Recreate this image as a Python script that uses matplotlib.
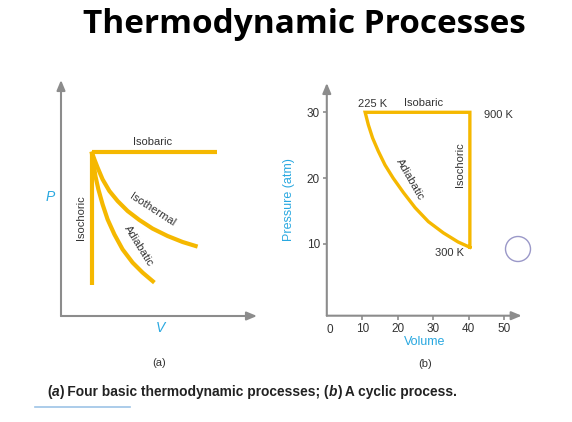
import matplotlib
matplotlib.use("Agg")
import matplotlib.pyplot as plt
from matplotlib.patches import Circle

# ---- data ----
# (a) schematic P-V processes, arbitrary units
iso_bar_v = [1.53, 7.8]
iso_bar_p = [8.22, 8.22]
iso_cho_v = [1.53, 1.53]
iso_cho_p = [8.22, 1.55]
iso_therm_v = [1.53, 1.67, 1.83, 2.08, 2.42, 2.83, 3.33, 3.92, 4.58, 5.33, 6.08, 6.83]
iso_therm_p = [8.22, 7.83, 7.42, 6.83, 6.25, 5.75, 5.25, 4.80, 4.37, 4.00, 3.70, 3.47]
adiab_v = [1.53, 1.62, 1.72, 1.87, 2.08, 2.33, 2.67, 3.08, 3.58, 4.08, 4.67]
adiab_p = [8.22, 7.67, 7.00, 6.33, 5.58, 4.83, 4.08, 3.33, 2.67, 2.17, 1.67]

# (b) cyclic process: isochoric up, isobaric left, adiabatic back down
cyc_v = [40.3, 40.3, 10.8, 11.7, 12.9, 14.5, 16.4, 18.7, 21.6, 24.9, 28.6, 32.8, 37.0, 40.3]
cyc_p = [9.5, 30.0, 30.0, 28.1, 26.1, 24.1, 22.0, 20.0, 17.8, 15.5, 13.4, 11.7, 10.3, 9.5]
b_xticks = [10, 20, 30, 40, 50]
b_yticks = [10, 20, 30]

W, H = 572, 422
GOLD = "#F5B800"
AXC = "#8C8C8C"
BLUE = "#29A8E0"
TXT = "#333333"
FONT = "Liberation Sans"

fig = plt.figure(figsize=(W / 100, H / 100), dpi=100)
fig.patch.set_facecolor("white")


def box(x0, y0, x1, y1):
    # pixel box (top-left origin) -> figure fraction rect
    return [x0 / W, 1 - y1 / H, (x1 - x0) / W, (y1 - y0) / H]


def arrow_axes(ax):
    for s in ax.spines.values():
        s.set_visible(False)
    kw = dict(arrowstyle="-|>,head_length=0.6,head_width=0.25", color=AXC, lw=1.5,
              shrinkA=0, shrinkB=0)
    ax.annotate("", xy=(1, 0), xytext=(0, 0), xycoords="axes fraction",
                textcoords="axes fraction", arrowprops=kw, annotation_clip=False)
    ax.annotate("", xy=(0, 1), xytext=(0, 0), xycoords="axes fraction",
                textcoords="axes fraction", arrowprops=kw, annotation_clip=False)


# ---- panel (a) ----
ax_a = fig.add_axes(box(61, 80, 257, 316))
ax_a.set_xlim(0, 9.8)
ax_a.set_ylim(0, 11.8)
arrow_axes(ax_a)
ax_a.set_xticks([])
ax_a.set_yticks([])
for v, p in [(iso_bar_v, iso_bar_p), (iso_cho_v, iso_cho_p),
             (iso_therm_v, iso_therm_p), (adiab_v, adiab_p)]:
    ax_a.plot(v, p, color=GOLD, lw=3.0, solid_capstyle="butt", clip_on=False)

ax_a.text(4.6, 8.72, "Isobaric", fontsize=8, color=TXT, family=FONT, ha="center", va="center")
ax_a.text(0.98, 4.9, "Isochoric", fontsize=8, color=TXT, family=FONT, ha="center", va="center", rotation=90)
ax_a.text(4.55, 5.3, "Isothermal", fontsize=8, color=TXT, family=FONT, ha="center", va="center", rotation=-33)
ax_a.text(3.9, 3.5, "Adiabatic", fontsize=8, color=TXT, family=FONT, ha="center", va="center", rotation=-58)
ax_a.text(-0.55, 5.95, "P", fontsize=10, color=BLUE, family=FONT, style="italic", ha="center", va="center")
ax_a.text(4.95, -0.58, "V", fontsize=10, color=BLUE, family=FONT, style="italic", ha="center", va="center")
ax_a.text(4.9, -2.35, "(a)", fontsize=8, color=TXT, family=FONT, ha="center", va="center")

# ---- panel (b) ----
ax_b = fig.add_axes(box(326.8, 83, 521.7, 315.7))
ax_b.set_xlim(0, 54.9)
ax_b.set_ylim(-0.89, 34.45)
arrow_axes(ax_b)
ax_b.plot(cyc_v, cyc_p, color=GOLD, lw=2.4, solid_joinstyle="miter", clip_on=False)
ax_b.set_xticks(b_xticks)
ax_b.set_yticks(b_yticks)
ax_b.tick_params(length=3, width=1.2, color=AXC, labelcolor=TXT, labelsize=8.5, pad=2)
for t in ax_b.get_xticklabels() + ax_b.get_yticklabels():
    t.set_family(FONT)
ax_b.text(0.9, -3.0, "0", fontsize=8.5, color=TXT, family=FONT, ha="center", va="center")
ax_b.set_xlabel("Volume", fontsize=9, color=BLUE, family=FONT, labelpad=1)
ax_b.set_ylabel("Pressure (atm)", fontsize=9, color=BLUE, family=FONT, labelpad=8)

ax_b.text(13.0, 31.3, "225 K", fontsize=8, color=TXT, family=FONT, ha="center", va="center")
ax_b.text(27.3, 31.4, "Isobaric", fontsize=8, color=TXT, family=FONT, ha="center", va="center")
ax_b.text(48.3, 29.6, "900 K", fontsize=8, color=TXT, family=FONT, ha="center", va="center")
ax_b.text(37.5, 22.0, "Isochoric", fontsize=8, color=TXT, family=FONT, ha="center", va="center", rotation=90)
ax_b.text(23.5, 19.8, "Adiabatic", fontsize=8, color=TXT, family=FONT, ha="center", va="center", rotation=-60)
ax_b.text(34.7, 8.6, "300 K", fontsize=8, color=TXT, family=FONT, ha="center", va="center")
ax_b.text(27.6, -8.2, "(b)", fontsize=8, color=TXT, family=FONT, ha="center", va="center",
          clip_on=False)

# ---- figure text ----
fig.text(304 / W, 1 - 33 / H, "Thermodynamic Processes", fontsize=24, fontweight="bold",
         family="Open Sans", ha="center", va="baseline")

# caption, drawn piece by piece so the letters a and b can be italic
caption = [("(", "normal"), ("a", "italic"), (") Four basic thermodynamic processes; (", "normal"),
           ("b", "italic"), (") A cyclic process.", "normal")]
renderer = fig.canvas.get_renderer()
x_px = 47
for piece, st in caption:
    t = fig.text(x_px / W, 1 - 392 / H, piece, fontsize=9.9, fontweight="bold", style=st,
                 family=FONT, color="#222222", ha="left", va="center")
    bb = t.get_window_extent(renderer)
    x_px += bb.width

fig.add_artist(plt.Line2D([35 / W, 130 / W], [1 - 407 / H, 1 - 407 / H], color="#9DC3E6", lw=1.2))
# circle marker in inches so it stays round
fig.add_artist(Circle((5.18, (H - 249) / 100), 0.125, transform=fig.dpi_scale_trans,
                      fill=False, ec="#9A98C8", lw=1.0))

fig.savefig("out.png", dpi=100)
